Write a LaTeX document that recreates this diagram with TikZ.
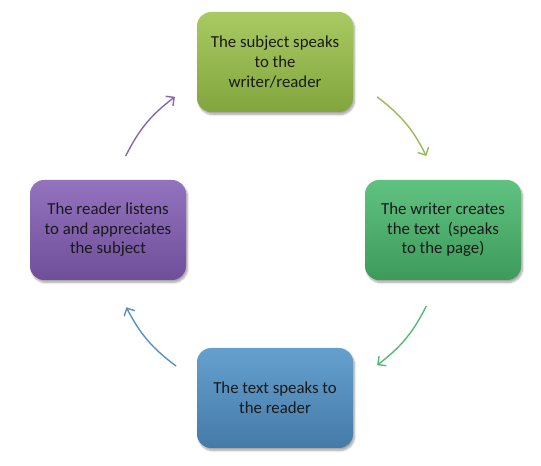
\documentclass[tikz,border=0pt]{standalone}
\usepackage{fontspec}
\setmainfont{Carlito}
\usepackage{xcolor}
\definecolor{SUBJcolor}{HTML}{9BBB59}
\definecolor{SUBJtop}{HTML}{A9CA62}
\definecolor{SUBJbot}{HTML}{83A53E}
\definecolor{WRITcolor}{HTML}{55B876}
\definecolor{WRITtop}{HTML}{60C281}
\definecolor{WRITbot}{HTML}{3D9A5B}
\definecolor{TEXTcolor}{HTML}{5A8FBE}
\definecolor{TEXTtop}{HTML}{64A0CF}
\definecolor{TEXTbot}{HTML}{457AA8}
\definecolor{READcolor}{HTML}{8667B2}
\definecolor{READtop}{HTML}{9373BE}
\definecolor{READbot}{HTML}{6F4F9A}
\usepackage{tikz}
\usetikzlibrary{math,calc,arrows.meta,shadows.blur}

\begin{document}
\begin{tikzpicture}[x=1pt, y=1pt]

    \tikzset{%
        stage/.style={%
                rounded corners=14pt, minimum width=156pt, minimum height=100pt,
                inner sep=0pt, align=center, text=black!90,
                font={\fontsize{16.8}{19.6}\selectfont},
                blur shadow={shadow xshift=1.5pt, shadow yshift=-2.5pt,
                        shadow blur steps=6, shadow opacity=35}
            },
        flow/.style={line width=1.4pt, -{Straight Barb[length=6pt, width=12pt]}}
    }

    \tikzmath{%
        \rad=168;
        \sweep=26.5;
    };

    \useasboundingbox (0, 0) rectangle (541, 466);
    \coordinate (hub) at (276, 235);

    \node [stage, top color=SUBJtop, bottom color=SUBJbot] (subject) at (275, 404) {The subject speaks\\to the\\writer/reader};
    \node [stage, top color=WRITtop, bottom color=WRITbot] (writer) at (443, 236) {The writer creates\\the text\ \ (speaks\\to the page)};
    \node [stage, top color=TEXTtop, bottom color=TEXTbot] (text) at (275, 68) {The text speaks to\\the reader};
    \node [stage, top color=READtop, bottom color=READbot] (reader) at (108, 236) {The reader listens\\to and appreciates\\the subject};

    \foreach \from/\to/\ang in {subject/writer/53, writer/text/-26.5, text/reader/-126.5, reader/subject/153.5} {%
            \coordinate (\from-out) at ($(hub)+(\ang:\rad)$);
            \coordinate (\to-in) at ($(hub)+({\ang-\sweep}:\rad)$);
        }

    \draw [flow, SUBJcolor] (subject-out) to[bend left=13] (writer-in);
    \draw [flow, WRITcolor] (writer-out) to[bend left=13] (text-in);
    \draw [flow, TEXTcolor] (text-out) to[bend left=13] (reader-in);
    \draw [flow, READcolor] (reader-out) to[bend left=13] (subject-in);

\end{tikzpicture}
\end{document}
